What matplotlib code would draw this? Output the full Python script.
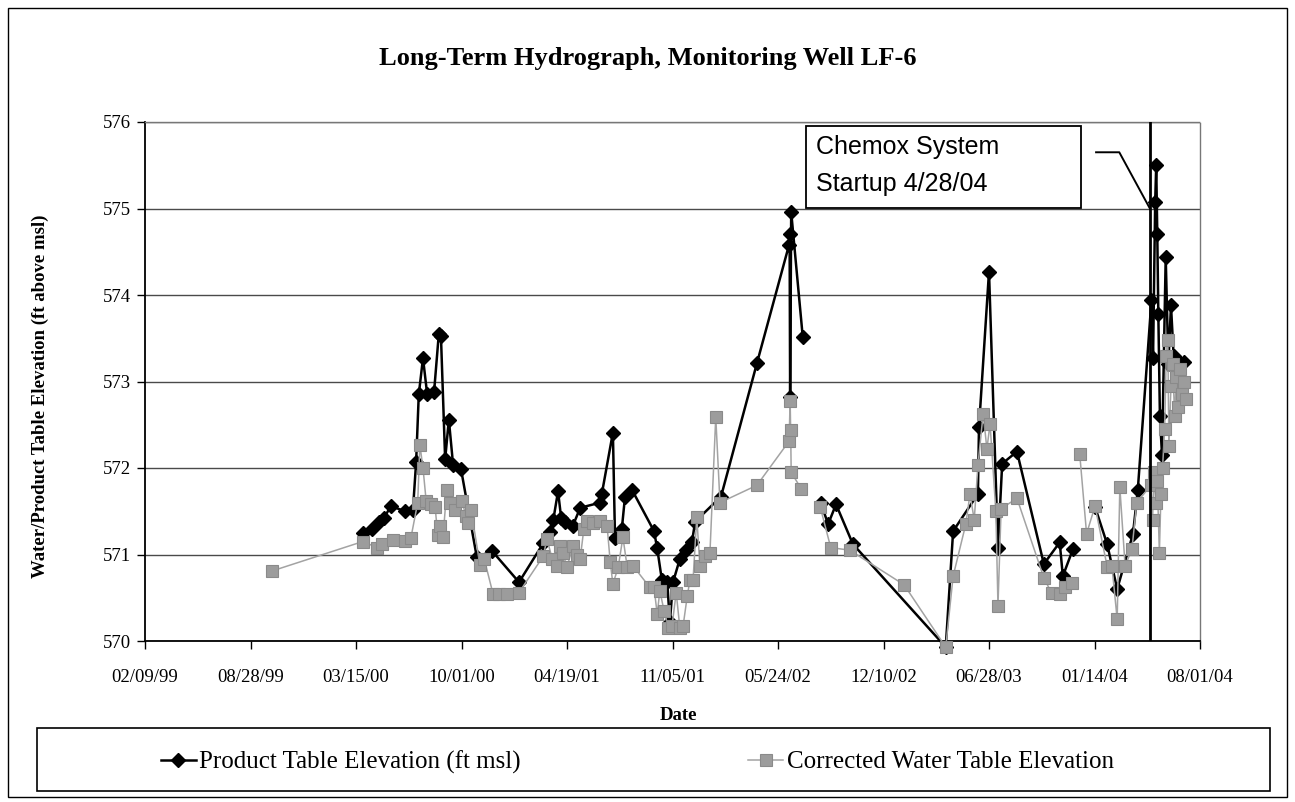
import numpy as np
import pandas as pd
import matplotlib
matplotlib.use("Agg")
import matplotlib.pyplot as plt
import matplotlib.dates as mdates
from matplotlib.patches import Rectangle

# product (LNAPL) table elevation, ft msl -- None marks a missing reading
product_dates = [
    "2000-03-28", "2000-04-14", "2000-04-28", "2000-05-07", "2000-05-20", "2000-06-16",
    "2000-07-01", "2000-07-07", "2000-07-12", "2000-07-20", "2000-07-28", "2000-08-10",
    "2000-08-19", "2000-08-23", "2000-08-31", "2000-09-07", "2000-09-15", "2000-09-30",
    "2000-10-30", "2000-11-28", "2001-01-18", "2001-03-05", "2001-03-18", "2001-03-24",
    "2001-04-02", "2001-04-08", "2001-04-15", "2001-04-30", "2001-05-14", "2001-06-21",
    "2001-06-24", "2001-07-15", "2001-07-19", "2001-08-01", "2001-08-07", "2001-08-20",
    "2001-10-01", "2001-10-07", "2001-10-16", "2001-10-26", "2001-10-31", "2001-11-06",
    "2001-11-19", "2001-12-01", "2001-12-12", "2001-12-18", "2002-02-05", "2002-04-14",
    "2002-06-14", "2002-06-15", "2002-06-16", "2002-06-18", "2002-07-10", "2002-07-25",
    "2002-08-13", "2002-08-27", "2002-09-11", "2002-10-13", "2003-04-07", "2003-04-21",
    "2003-06-07", "2003-06-09", "2003-06-28", "2003-07-15", "2003-07-23", "2003-08-20",
    "2003-10-10", "2003-11-09", "2003-11-15", "2003-12-04", "2003-12-17", "2004-01-15",
    "2004-02-07", "2004-02-26", "2004-03-27", "2004-04-05", "2004-05-01", "2004-05-04",
    "2004-05-08", "2004-05-10", "2004-05-12", "2004-05-14", "2004-05-17", "2004-05-21",
    "2004-05-28", "2004-06-02", "2004-06-07", "2004-06-12", "2004-06-18", "2004-07-01",
]
product_elev = [
    571.25, 571.30, 571.37, 571.42, 571.56, 571.50,
    571.52, 572.07, 572.85, 573.27, 572.85, 572.88,
    573.55, 573.53, 572.10, 572.56, 572.04, 571.99,
    570.97, 571.04, 570.68, 571.13, 571.26, 571.40,
    571.73, 571.42, 571.37, 571.33, 571.54, 571.60,
    571.70, 572.41, 571.19, 571.30, 571.67, 571.75,
    571.27, 571.07, 570.70, 570.68, 570.22, 570.68,
    570.95, 571.05, 571.15, 571.38, 571.67, 573.21,
    574.58, 574.70, 572.82, 574.96, 573.51, None,
    571.60, 571.35, 571.58, 571.12, 569.93, 571.27,
    571.70, 572.47, 574.27, 571.08, 572.05, 572.19,
    570.89, 571.14, 570.75, 571.06, None, 571.55,
    571.12, 570.60, 571.24, 571.74, 573.94, 573.27,
    575.07, 575.50, 574.71, 573.78, 572.60, 572.15,
    574.44, 573.20, 573.88, 573.30, 573.25, 573.22,
]

# corrected water table elevation, ft msl
water_dates = [
    "1999-10-08", "2000-03-28", "2000-04-24", "2000-05-03", "2000-05-24", "2000-06-16",
    "2000-06-27", "2000-07-10", "2000-07-14", "2000-07-20", "2000-07-26", "2000-08-04",
    "2000-08-12", "2000-08-17", "2000-08-21", "2000-08-27", "2000-09-03", "2000-09-09",
    "2000-09-19", "2000-10-02", "2000-10-09", "2000-10-13", "2000-10-19", "2000-11-05",
    "2000-11-13", "2000-11-30", "2000-12-11", "2000-12-26", "2001-01-18", "2001-03-05",
    "2001-03-12", "2001-03-22", "2001-03-31", "2001-04-06", "2001-04-11", "2001-04-19",
    "2001-04-30", "2001-05-08", "2001-05-14", "2001-05-21", "2001-05-27", "2001-06-07",
    "2001-06-21", "2001-07-04", "2001-07-10", "2001-07-15", "2001-07-25", "2001-08-03",
    "2001-08-11", "2001-08-22", "2001-09-23", "2001-10-01", "2001-10-07", "2001-10-12",
    "2001-10-20", "2001-10-28", "2001-11-04", "2001-11-12", "2001-11-19", "2001-11-25",
    "2001-12-03", "2001-12-08", "2001-12-14", "2001-12-21", "2001-12-27", "2002-01-06",
    "2002-01-15", "2002-01-26", "2002-02-03", "2002-04-14", "2002-06-14", "2002-06-16",
    "2002-06-17", "2002-06-18", "2002-07-07", "2002-07-25", "2002-08-12", "2002-09-01",
    "2002-10-07", "2003-01-18", "2003-04-07", "2003-04-21", "2003-05-15", "2003-05-23",
    "2003-05-31", "2003-06-07", "2003-06-17", "2003-06-24", "2003-06-30", "2003-07-11",
    "2003-07-15", "2003-07-21", "2003-08-20", "2003-10-10", "2003-10-25", "2003-11-09",
    "2003-11-20", "2003-12-02", "2003-12-10", "2003-12-17", "2003-12-30", "2004-01-15",
    "2004-02-07", "2004-02-16", "2004-02-26", "2004-03-02", "2004-03-12", "2004-03-25",
    "2004-04-03", "2004-04-30", "2004-05-03", "2004-05-06", "2004-05-09", "2004-05-12",
    "2004-05-16", "2004-05-19", "2004-05-22", "2004-05-26", "2004-05-29", "2004-06-01",
    "2004-06-03", "2004-06-07", "2004-06-10", "2004-06-14", "2004-06-17", "2004-06-21",
    "2004-06-24", "2004-06-28", "2004-07-01", "2004-07-05",
]
water_elev = [
    570.81, 571.15, 571.08, 571.12, 571.17, 571.16,
    571.19, 571.60, 572.27, 572.00, 571.62, 571.58,
    571.55, 571.22, 571.33, 571.20, 571.75, 571.60,
    571.52, 571.62, 571.45, 571.36, 571.52, 570.88,
    570.95, 570.54, 570.54, 570.54, 570.56, 570.98,
    571.18, 570.95, 570.87, 571.10, 571.02, 570.85,
    571.10, 571.00, 570.95, 571.30, 571.39, 571.36,
    571.39, 571.33, 570.91, 570.66, 570.85, 571.20,
    570.86, 570.87, 570.62, 570.62, 570.31, 570.58,
    570.35, 570.15, 570.17, 570.56, 570.15, 570.17,
    570.52, 570.70, 570.71, 571.43, 570.87, 570.98,
    571.02, 572.59, 571.60, 571.80, 572.31, 572.78,
    572.44, 571.95, 571.76, None, 571.55, 571.08,
    571.05, 570.65, 569.93, 570.75, 571.35, 571.70,
    571.40, 572.03, 572.63, 572.22, 572.51, 571.50,
    570.41, 571.53, 571.65, 570.73, 570.55, 570.54,
    570.62, 570.67, None, 572.16, 571.24, 571.56,
    570.86, 570.87, 570.25, 571.78, 570.87, 571.06,
    571.60, 571.80, 571.40, 571.95, 571.60, 571.85,
    571.02, 571.70, 572.00, 572.45, 573.30, 573.48,
    572.25, 572.95, 573.20, 572.60, 573.05, 572.70,
    573.15, 572.85, 573.00, 572.80,
]

tick_dates = ["1999-02-09", "1999-08-28", "2000-03-15", "2000-10-01", "2001-04-19",
              "2001-11-05", "2002-05-24", "2002-12-10", "2003-06-28", "2004-01-14",
              "2004-08-01"]
y_ticks = [570, 571, 572, 573, 574, 575, 576]
startup_date = "2004-04-28"

serif = "Liberation Serif"
sans = "Liberation Sans"

p_x = pd.to_datetime(product_dates)
p_y = np.array([np.nan if v is None else v for v in product_elev], dtype=float)
w_x = pd.to_datetime(water_dates)
w_y = np.array([np.nan if v is None else v for v in water_elev], dtype=float)
ticks = pd.to_datetime(tick_dates)
startup = pd.Timestamp(startup_date)

W, H = 1295, 802
fig = plt.figure(figsize=(W / 100, H / 100), dpi=100)
ax = fig.add_axes([145 / W, 1 - 641 / H, 1055 / W, 519 / H])

line_p, = ax.plot(p_x, p_y, color="black", lw=1.8, marker="D", ms=7.5,
                  mfc="black", mec="black", clip_on=False, zorder=3)
line_w, = ax.plot(w_x, w_y, color="#a3a3a3", lw=1.1, marker="s", ms=9,
                  mfc="#9c9c9c", mec="#8a8a8a", mew=0.8, clip_on=False, zorder=4)

# Chemox start-up marker
ax.axvline(startup, color="black", lw=2, zorder=5)
knee = startup - pd.Timedelta(days=58)
start = startup - pd.Timedelta(days=102)
ax.plot([start, knee, startup], [575.65, 575.65, 575.0], color="black", lw=1.4,
        zorder=5, clip_on=False)
ax.add_patch(Rectangle((0.6265, 0.834), 0.2605, 0.158, transform=ax.transAxes,
                       facecolor="white", edgecolor="black", lw=1.3, zorder=6))
ax.text(0.636, 0.952, "Chemox System", transform=ax.transAxes, fontsize=18,
        family=sans, va="center", ha="left", zorder=7)
ax.text(0.636, 0.881, "Startup 4/28/04", transform=ax.transAxes, fontsize=18,
        family=sans, va="center", ha="left", zorder=7)

ax.set_xlim(ticks[0], ticks[-1])
ax.set_ylim(570, 576)
ax.set_xticks(ticks)
ax.xaxis.set_major_formatter(mdates.DateFormatter("%m/%d/%y"))
ax.set_yticks(y_ticks)
ax.grid(axis="y", color="#4a4a4a", lw=1)
ax.set_axisbelow(True)

for lab in ax.get_xticklabels() + ax.get_yticklabels():
    lab.set_family(serif)
    lab.set_fontsize(13.5)
ax.tick_params(axis="x", length=6, width=1, pad=14, direction="out")
ax.tick_params(axis="y", length=6, width=1, pad=4, direction="out")

for side in ("left", "bottom"):
    ax.spines[side].set_color("black")
    ax.spines[side].set_linewidth(1.3)
for side in ("top", "right"):
    ax.spines[side].set_color("#777777")
    ax.spines[side].set_linestyle((0, (1, 1)))
    ax.spines[side].set_linewidth(1)

fig.text(648 / W, 1 - 58 / H, "Long-Term Hydrograph, Monitoring Well LF-6",
         ha="center", va="center", fontsize=19, fontweight="bold", family=serif)
fig.text(40 / W, 1 - 396 / H, "Water/Product Table Elevation (ft above msl)",
         rotation=90, ha="center", va="center", fontsize=13.5,
         fontweight="bold", family=serif)
fig.text(678 / W, 1 - 715 / H, "Date", ha="center", va="center",
         fontsize=13.5, fontweight="bold", family=serif)

# legend box below the chart
fig.add_artist(Rectangle((37 / W, 1 - 791 / H), 1233 / W, 63 / H,
                         transform=fig.transFigure, fill=False,
                         edgecolor="black", lw=1.2))
fig.legend([line_p, line_w],
           ["Product Table Elevation (ft msl)", "Corrected Water Table Elevation"],
           loc="center left", bbox_to_anchor=(138 / W, 1 - 762 / H), ncol=2,
           frameon=False, handlelength=1.4, handletextpad=0.15,
           columnspacing=9.1, prop={"family": serif, "size": 18})

# outer chart frame
fig.add_artist(Rectangle((8 / W, 1 - 797 / H), 1279 / W, 789 / H,
                         transform=fig.transFigure, fill=False,
                         edgecolor="black", lw=1))

fig.savefig("out.png", dpi=100)
